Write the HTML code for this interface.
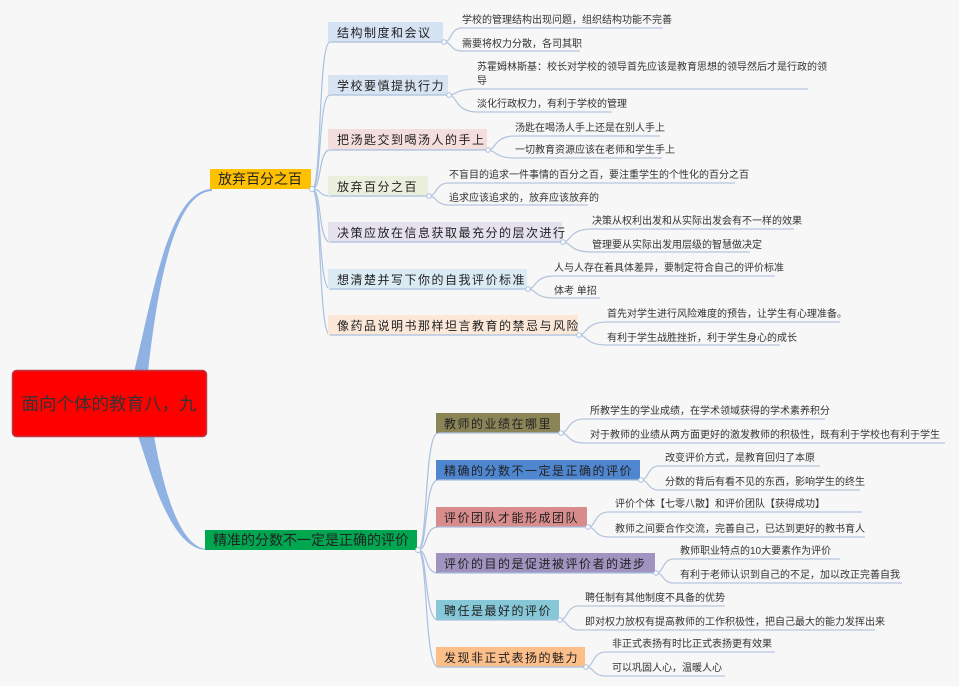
<!DOCTYPE html>
<html><head><meta charset="utf-8"><style>
html,body{margin:0;padding:0;background:#f7f7f7;}
svg{display:block;}
text{font-family:"Liberation Sans","Noto Sans CJK SC",sans-serif;}
.lf{font-size:10px;fill:#333;}
.sb{font-size:12px;fill:#222;letter-spacing:1.5px;}
.ul{stroke:#b5c6dc;stroke-width:1.3;fill:none;}
.cn{stroke:#a9c0e0;stroke-width:1.2;fill:none;}
</style></head><body>
<svg width="959" height="686" viewBox="0 0 959 686" xmlns="http://www.w3.org/2000/svg">
<rect width="959" height="686" fill="#f7f7f7"/>
<path d="M134 372 C152 300,168 190,212 189 L212 191 C172 192,156 300,148 372 Z" fill="#8fb2e2"/>
<path d="M138 436 C150 470,170 550,207 550 L207 549 C176 548,160 470,154 436 Z" fill="#8fb2e2"/>
<rect x="12.5" y="370.5" width="194" height="66" rx="4" fill="#ff0000" stroke="#b93845" stroke-width="1.5"/>
<text x="109" y="410" text-anchor="middle" style="font-size:17.5px;fill:#333">面向个体的教育八，九</text>
<rect x="210" y="169" width="101" height="20" fill="#ffc000"/>
<text x="260" y="184" text-anchor="middle" style="font-size:14px;fill:#222">放弃百分之百</text>
<g class="cn">
<path d="M312 189 C322 189,318 42,330 42"/>
<path d="M312 189 C322 189,318 95,330 95"/>
<path d="M312 189 C322 189,318 150,330 150"/>
<path d="M312 189 C322 189,318 196,330 196"/>
<path d="M312 189 C322 189,318 242,330 242"/>
<path d="M312 189 C322 189,318 289,330 289"/>
<path d="M312 189 C322 189,318 335,330 335"/>
</g>
<circle cx="312" cy="189" r="2.5" fill="#fff" stroke="#a9c0e0"/>
<g>
<rect x="328" y="22" width="115" height="20" fill="#d5e2f4"/><text class="sb" x="337" y="37">结构制度和会议</text>
<rect x="328" y="75" width="120" height="20" fill="#d8e4f2"/><text class="sb" x="337" y="90">学校要慎提执行力</text>
<rect x="328" y="129" width="159" height="21" fill="#f4dddd"/><text class="sb" x="337" y="144">把汤匙交到喝汤人的手上</text>
<rect x="328" y="176" width="100" height="20" fill="#ebefdd"/><text class="sb" x="337" y="191">放弃百分之百</text>
<rect x="328" y="222" width="234" height="20" fill="#e5e2ee"/><text class="sb" x="337" y="237">决策应放在信息获取最充分的层次进行</text>
<rect x="328" y="269" width="199" height="20" fill="#dbebf3"/><text class="sb" x="337" y="284">想清楚并写下你的自我评价标准</text>
<rect x="328" y="315" width="250" height="20" fill="#fbe8d8"/><text class="sb" x="337" y="330">像药品说明书那样坦言教育的禁忌与风险</text>
</g>
<g class="cn">
<path d="M330 42 L443 42"/><path d="M330 95 L448 95"/><path d="M330 150 L487 150"/><path d="M330 196 L428 196"/><path d="M330 242 L562 242"/><path d="M330 289 L527 289"/><path d="M330 335 L578 335"/>
</g>
<g class="ul">
<path d="M444 42 C452 42,450 28,462 28 L663 28"/><path d="M444 42 C452 42,450 51,462 51 L580 51"/>
<path d="M449 95 C457 95,455 89,477 89 L808 89"/><path d="M449 95 C457 95,455 112,477 112 L612 112"/>
<path d="M488 150 C496 150,494 136,515 136 L660 136"/><path d="M488 150 C496 150,494 158,515 158 L662 158"/>
<path d="M429 196 C437 196,435 183,449 183 L735 183"/><path d="M429 196 C437 196,435 205,449 205 L588 205"/>
<path d="M563 242 C571 242,569 229,592 229 L794 229"/><path d="M563 242 C571 242,569 252,592 252 L750 252"/>
<path d="M528 289 C536 289,534 276,554 276 L775 276"/><path d="M528 289 C536 289,534 298,554 298 L600 298"/>
<path d="M579 335 C587 335,585 322,607 322 L840 322"/><path d="M579 335 C587 335,585 345,607 345 L780 345"/>
</g>
<g fill="#fff" stroke="#a9c0e0"><circle cx="444" cy="42" r="2.3"/><circle cx="449" cy="95" r="2.3"/><circle cx="488" cy="150" r="2.3"/><circle cx="429" cy="196" r="2.3"/><circle cx="563" cy="242" r="2.3"/><circle cx="528" cy="289" r="2.3"/><circle cx="579" cy="335" r="2.3"/></g>
<g class="lf">
<text x="462" y="23">学校的管理结构出现问题，组织结构功能不完善</text>
<text x="462" y="47">需要将权力分散，各司其职</text>
<text x="477" y="70">苏霍姆林斯基：校长对学校的领导首先应该是教育思想的领导然后才是行政的领</text>
<text x="477" y="84">导</text>
<text x="477" y="107">淡化行政权力，有利于学校的管理</text>
<text x="515" y="131">汤匙在喝汤人手上还是在别人手上</text>
<text x="515" y="153">一切教育资源应该在老师和学生手上</text>
<text x="449" y="178">不盲目的追求一件事情的百分之百，要注重学生的个性化的百分之百</text>
<text x="449" y="201">追求应该追求的，放弃应该放弃的</text>
<text x="592" y="224">决策从权利出发和从实际出发会有不一样的效果</text>
<text x="592" y="248">管理要从实际出发用层级的智慧做决定</text>
<text x="554" y="271">人与人存在着具体差异，要制定符合自己的评价标准</text>
<text x="554" y="294">体考 单招</text>
<text x="607" y="317">首先对学生进行风险难度的预告，让学生有心理准备。</text>
<text x="607" y="341">有利于学生战胜挫折，利于学生身心的成长</text>
</g>
<rect x="205" y="530" width="212" height="20" fill="#00a650"/>
<text x="311" y="545" text-anchor="middle" style="font-size:14px;fill:#222">精准的分数不一定是正确的评价</text>
<g class="cn">
<path d="M418 550 C428 550,424 433,438 433"/>
<path d="M418 550 C428 550,424 480,438 480"/>
<path d="M418 550 C428 550,424 527,438 527"/>
<path d="M418 550 C428 550,424 573,438 573"/>
<path d="M418 550 C428 550,424 620,438 620"/>
<path d="M418 550 C428 550,424 667,438 667"/>
</g>
<circle cx="418" cy="550" r="2.5" fill="#fff" stroke="#a9c0e0"/>
<g>
<rect x="436" y="413" width="124" height="20" fill="#8b8457"/><text class="sb" x="444" y="428">教师的业绩在哪里</text>
<rect x="436" y="460" width="204" height="20" fill="#4f86d0"/><text class="sb" x="444" y="475">精确的分数不一定是正确的评价</text>
<rect x="436" y="507" width="151" height="20" fill="#d98c8c"/><text class="sb" x="444" y="522">评价团队才能形成团队</text>
<rect x="436" y="553" width="219" height="20" fill="#a193c0"/><text class="sb" x="444" y="568">评价的目的是促进被评价者的进步</text>
<rect x="436" y="600" width="123" height="20" fill="#87c8d8"/><text class="sb" x="444" y="615">聘任是最好的评价</text>
<rect x="436" y="647" width="149" height="20" fill="#fcbf8a"/><text class="sb" x="444" y="662">发现非正式表扬的魅力</text>
</g>
<g class="cn">
<path d="M438 433 L560 433"/><path d="M438 480 L640 480"/><path d="M438 527 L587 527"/><path d="M438 573 L655 573"/><path d="M438 620 L559 620"/><path d="M438 667 L585 667"/>
</g>
<g class="ul">
<path d="M561 433 C569 433,567 419,584 419 L825 419"/><path d="M561 433 C569 433,567 443,584 443 L945 443"/>
<path d="M641 480 C649 480,647 466,659 466 L820 466"/><path d="M641 480 C649 480,647 490,659 490 L860 490"/>
<path d="M588 527 C596 527,594 512,609 512 L862 512"/><path d="M588 527 C596 527,594 537,609 537 L865 537"/>
<path d="M656 573 C664 573,662 559,674 559 L840 559"/><path d="M656 573 C664 573,662 583,674 583 L902 583"/>
<path d="M560 620 C568 620,566 606,579 606 L725 606"/><path d="M560 620 C568 620,566 630,579 630 L875 630"/>
<path d="M586 667 C594 667,592 652,606 652 L775 652"/><path d="M586 667 C594 667,592 676,606 676 L725 676"/>
</g>
<g fill="#fff" stroke="#a9c0e0"><circle cx="561" cy="433" r="2.3"/><circle cx="641" cy="480" r="2.3"/><circle cx="588" cy="527" r="2.3"/><circle cx="656" cy="573" r="2.3"/><circle cx="560" cy="620" r="2.3"/><circle cx="586" cy="667" r="2.3"/></g>
<g class="lf">
<text x="590" y="414">所教学生的学业成绩，在学术领域获得的学术素养积分</text>
<text x="590" y="438">对于教师的业绩从两方面更好的激发教师的积极性，既有利于学校也有利于学生</text>
<text x="665" y="461">改变评价方式，是教育回归了本原</text>
<text x="665" y="485">分数的背后有看不见的东西，影响学生的终生</text>
<text x="615" y="507">评价个体【七零八散】和评价团队【获得成功】</text>
<text x="615" y="532">教师之间要合作交流，完善自己，已达到更好的教书育人</text>
<text x="680" y="554">教师职业特点的10大要素作为评价</text>
<text x="680" y="578">有利于老师认识到自己的不足，加以改正完善自我</text>
<text x="585" y="601">聘任制有其他制度不具备的优势</text>
<text x="585" y="625">即对权力放权有提高教师的工作积极性，把自己最大的能力发挥出来</text>
<text x="612" y="647">非正式表扬有时比正式表扬更有效果</text>
<text x="612" y="671">可以巩固人心，温暖人心</text>
</g>
</svg>
</body></html>
